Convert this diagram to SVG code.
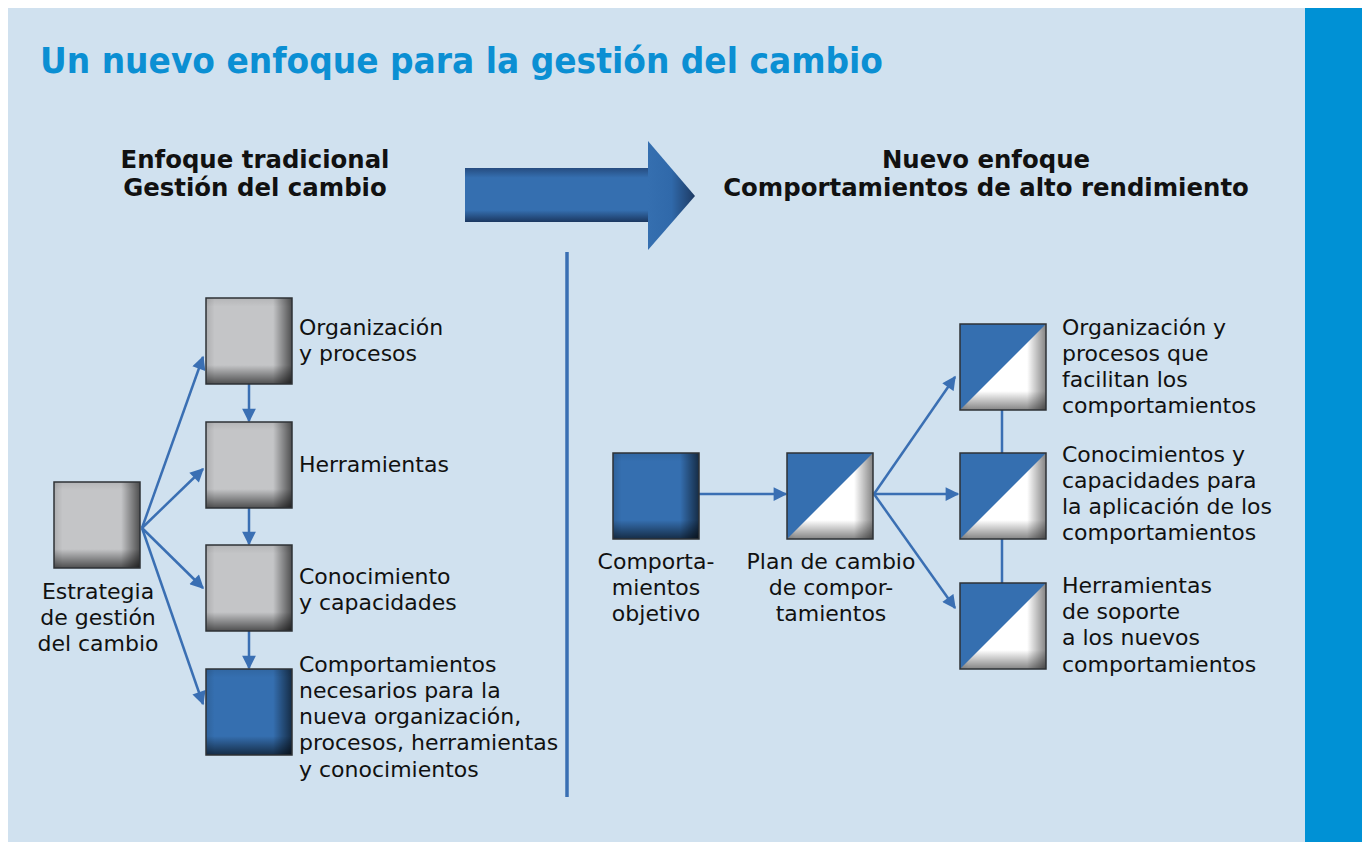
<svg xmlns="http://www.w3.org/2000/svg" width="1362" height="842" viewBox="0 0 1362 842">
<style>
.t{font-family:"DejaVu Sans","Liberation Sans",sans-serif;font-size:22px;fill:#111}
.h{font-family:"DejaVu Sans","Liberation Sans",sans-serif;font-size:24.4px;font-weight:bold;fill:#111}
.title{font-family:"DejaVu Sans Condensed","DejaVu Sans","Liberation Sans",sans-serif;font-size:36px;font-weight:bold;fill:#0b8fd3}
.c{text-anchor:middle}
.box{stroke:#2e3236;stroke-width:1.5}
.ln{stroke:#3a6fb3;stroke-width:2.5;fill:none}
</style>
<defs>
<linearGradient id="shR" x1="0" y1="0" x2="1" y2="0">
<stop offset="0" stop-color="#000" stop-opacity="0.12"/>
<stop offset="0.1" stop-color="#000" stop-opacity="0"/>
<stop offset="0.78" stop-color="#000" stop-opacity="0"/>
<stop offset="1" stop-color="#000" stop-opacity="0.6"/>
</linearGradient>
<linearGradient id="shB" x1="0" y1="0" x2="0" y2="1">
<stop offset="0" stop-color="#000" stop-opacity="0.08"/>
<stop offset="0.1" stop-color="#000" stop-opacity="0"/>
<stop offset="0.78" stop-color="#000" stop-opacity="0"/>
<stop offset="1" stop-color="#000" stop-opacity="0.6"/>
</linearGradient>
<linearGradient id="arrBody" x1="0" y1="0" x2="0" y2="1">
<stop offset="0" stop-color="#264c80"/>
<stop offset="0.18" stop-color="#356fb0"/>
<stop offset="0.78" stop-color="#356fb0"/>
<stop offset="1" stop-color="#1b3760"/>
</linearGradient>
<linearGradient id="arrHead" x1="0" y1="0" x2="1" y2="0">
<stop offset="0" stop-color="#356fb0"/>
<stop offset="0.5" stop-color="#3069aa"/>
<stop offset="1" stop-color="#1d3a63"/>
</linearGradient>
<marker id="ah" viewBox="0 0 10 10" refX="9" refY="5" markerWidth="6" markerHeight="5.5" orient="auto" markerUnits="strokeWidth">
<path d="M0,0 L10,5 L0,10 z" fill="#3a6fb3"/>
</marker>
<g id="gray">
<rect width="86" height="86" fill="#c4c5c7"/>
<rect width="86" height="86" fill="url(#shR)"/>
<rect width="86" height="86" fill="url(#shB)"/>
<rect width="86" height="86" fill="none" class="box"/>
</g>
<g id="blue">
<rect width="86" height="86" fill="#356fb0"/>
<rect width="86" height="86" fill="url(#shR)"/>
<rect width="86" height="86" fill="url(#shB)"/>
<rect width="86" height="86" fill="none" class="box"/>
</g>
<g id="split">
<rect width="86" height="86" fill="#ffffff"/>
<rect width="86" height="86" fill="url(#shR)" opacity="0.8"/>
<rect width="86" height="86" fill="url(#shB)" opacity="0.8"/>
<polygon points="0,0 86,0 0,86" fill="#356fb0"/>
<rect width="86" height="86" fill="none" class="box"/>
</g>
</defs>

<rect x="0" y="0" width="1362" height="842" fill="#ffffff"/>
<rect x="8" y="8" width="1297" height="834" fill="#d0e1ef"/>
<rect x="1305" y="8" width="57" height="834" fill="#0091d5"/>

<text class="title" x="40" y="73" textLength="843" lengthAdjust="spacingAndGlyphs">Un nuevo enfoque para la gestión del cambio</text>

<text class="h c" x="255" y="168">Enfoque tradicional</text>
<text class="h c" x="255" y="196">Gestión del cambio</text>
<text class="h c" x="986" y="168">Nuevo enfoque</text>
<text class="h c" x="986" y="196">Comportamientos de alto rendimiento</text>

<g id="bigArrow">
<rect x="465" y="168" width="184" height="54" fill="url(#arrBody)"/>
<polygon points="648,141 695,196 648,250" fill="url(#arrHead)"/>
</g>

<line x1="567" y1="252" x2="567" y2="797" stroke="#3a6fb3" stroke-width="3.5"/>

<g id="connectors">
<line class="ln" x1="249" y1="384" x2="249" y2="421" marker-end="url(#ah)"/>
<line class="ln" x1="249" y1="508" x2="249" y2="544" marker-end="url(#ah)"/>
<line class="ln" x1="249" y1="631" x2="249" y2="668" marker-end="url(#ah)"/>
<line class="ln" x1="142" y1="528" x2="203" y2="357" marker-end="url(#ah)"/>
<line class="ln" x1="142" y1="528" x2="203" y2="469" marker-end="url(#ah)"/>
<line class="ln" x1="142" y1="528" x2="203" y2="588" marker-end="url(#ah)"/>
<line class="ln" x1="142" y1="528" x2="203" y2="704" marker-end="url(#ah)"/>
<line class="ln" x1="699" y1="494" x2="786" y2="494" marker-end="url(#ah)"/>
<line class="ln" x1="874" y1="494" x2="955" y2="377" marker-end="url(#ah)"/>
<line class="ln" x1="874" y1="494" x2="958" y2="494" marker-end="url(#ah)"/>
<line class="ln" x1="874" y1="494" x2="955" y2="608" marker-end="url(#ah)"/>
<line x1="1002" y1="409" x2="1002" y2="454" stroke="#3a6fb3" stroke-width="2.5"/>
<line x1="1002" y1="539" x2="1002" y2="583" stroke="#3a6fb3" stroke-width="2.5"/>
</g>

<g id="n-estrategia">
<use href="#gray" x="54" y="482"/>
<text class="t c" x="98" y="599">Estrategia</text>
<text class="t c" x="98" y="625">de gestión</text>
<text class="t c" x="98" y="651">del cambio</text>
</g>
<g id="n-organizacion">
<use href="#gray" x="206" y="298"/>
<text class="t" x="299" y="335">Organización</text>
<text class="t" x="299" y="361">y procesos</text>
</g>
<g id="n-herramientas">
<use href="#gray" x="206" y="422"/>
<text class="t" x="299" y="472">Herramientas</text>
</g>
<g id="n-conocimiento">
<use href="#gray" x="206" y="545"/>
<text class="t" x="299" y="584">Conocimiento</text>
<text class="t" x="299" y="610">y capacidades</text>
</g>
<g id="n-comportamientos">
<use href="#blue" x="206" y="669"/>
<text class="t" x="299" y="672">Comportamientos</text>
<text class="t" x="299" y="698">necesarios para la</text>
<text class="t" x="299" y="724">nueva organización,</text>
<text class="t" x="299" y="750">procesos, herramientas</text>
<text class="t" x="299" y="777">y conocimientos</text>
</g>

<g id="n-objetivo">
<use href="#blue" x="613" y="453"/>
<text class="t c" x="656" y="569">Comporta-</text>
<text class="t c" x="656" y="595">mientos</text>
<text class="t c" x="656" y="621">objetivo</text>
</g>
<g id="n-plan">
<use href="#split" x="787" y="453"/>
<text class="t c" x="831" y="569">Plan de cambio</text>
<text class="t c" x="831" y="595">de compor-</text>
<text class="t c" x="831" y="621">tamientos</text>
</g>
<g id="n-org2">
<use href="#split" x="960" y="324"/>
<text class="t" x="1062" y="335">Organización y</text>
<text class="t" x="1062" y="361">procesos que</text>
<text class="t" x="1062" y="387">facilitan los</text>
<text class="t" x="1062" y="413">comportamientos</text>
</g>
<g id="n-con2">
<use href="#split" x="960" y="453"/>
<text class="t" x="1062" y="462">Conocimientos y</text>
<text class="t" x="1062" y="488">capacidades para</text>
<text class="t" x="1062" y="514">la aplicación de los</text>
<text class="t" x="1062" y="540">comportamientos</text>
</g>
<g id="n-herr2">
<use href="#split" x="960" y="583"/>
<text class="t" x="1062" y="593">Herramientas</text>
<text class="t" x="1062" y="619">de soporte</text>
<text class="t" x="1062" y="645">a los nuevos</text>
<text class="t" x="1062" y="672">comportamientos</text>
</g>
</svg>
